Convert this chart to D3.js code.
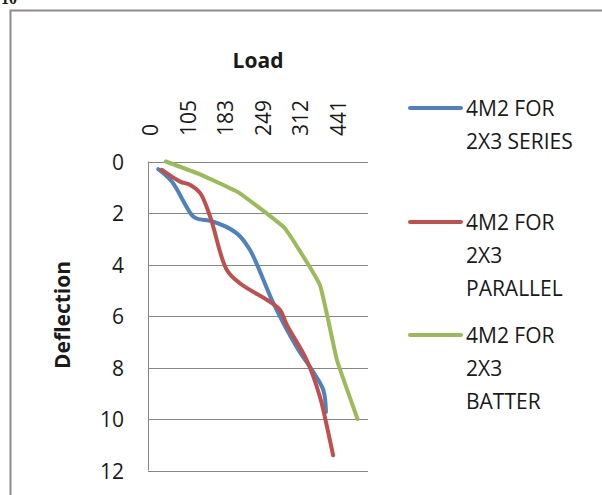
<!DOCTYPE html>
<html>
<head>
<meta charset="utf-8">
<script src="https://cdn.jsdelivr.net/npm/d3@7"></script>
<style>
  body { margin: 0; background: #fff; }
  text { font-family: "Open Sans", sans-serif; fill: #1a1a1a; }
</style>
</head>
<body>
<div id="chart"></div>
<script>
// Load categories shown on the top axis
const loadLabels = ["0", "105", "183", "249", "312", "441"];

// positions along the Load axis (in category steps) and deflections
const seriesX = [0.22, 0.58, 1.15, 1.33, 1.60, 2.31, 2.66, 3.28, 3.90, 4.34, 4.61, 4.68];
const seriesY = [0.3, 0.78, 2.14, 2.25, 2.3, 2.79, 3.44, 5.5, 7.2, 8.17, 8.88, 9.73];

const parallelX = [0.31, 0.80, 1.06, 1.33, 1.60, 2.04, 2.39, 3.19, 3.46, 3.64, 4.17, 4.52, 4.65, 4.87];
const parallelY = [0.32, 0.78, 0.9, 1.22, 2.14, 4.2, 4.73, 5.45, 5.77, 6.35, 7.72, 9.14, 9.92, 11.41];

const batterX = [0.42, 1.33, 2.35, 3.59, 4.52, 4.97, 5.52];
const batterY = [0, 0.5, 1.2, 2.6, 4.8, 7.7, 10.0];

const deflTicks = [0, 2, 4, 6, 8, 10, 12];

const series = [
  { name: ["4M2 FOR", "2X3 SERIES"], xs: seriesX, ys: seriesY, color: "#4f81bd", ly: 108,
    curve: d3.curveCatmullRom.alpha(0.5) },
  { name: ["4M2 FOR", "2X3", "PARALLEL"], xs: parallelX, ys: parallelY, color: "#c0504d", ly: 222,
    curve: d3.curveCatmullRom.alpha(0.5) },
  { name: ["4M2 FOR", "2X3", "BATTER"], xs: batterX, ys: batterY, color: "#9bbb59", ly: 335,
    curve: d3.curveCardinal.tension(0.7) }
];

const W = 602, H = 495;
const svg = d3.select("#chart").append("svg")
    .attr("width", W).attr("height", H);

// caption fragment clipped at the top of the page
svg.append("text").attr("x", 1).attr("y", 4)
    .style("font-family", "'Liberation Serif', serif")
    .style("font-weight", "bold").style("font-size", "16px")
    .text("10");

// chart area border
svg.append("rect").attr("x", 10.5).attr("y", 10.5)
    .attr("width", 700).attr("height", 600)
    .attr("fill", "none").attr("stroke", "#8c8c8c").attr("stroke-width", 2);

const plot = { left: 148, right: 368, top: 161.5, bottom: 470.5 };

const x = d3.scaleLinear().domain([0, 5]).range([150, 338]);
const y = d3.scaleLinear().domain([0, 12]).range([plot.top, plot.bottom]);

// horizontal gridlines
svg.append("g").selectAll("line").data(deflTicks).enter().append("line")
    .attr("x1", plot.left).attr("x2", plot.right)
    .attr("y1", d => Math.round(y(d)) + 0.5).attr("y2", d => Math.round(y(d)) + 0.5)
    .attr("stroke", "#868686").attr("stroke-width", 1);

// vertical axis line
svg.append("line")
    .attr("x1", plot.left + 0.5).attr("x2", plot.left + 0.5)
    .attr("y1", plot.top).attr("y2", plot.bottom)
    .attr("stroke", "#868686");

// deflection tick labels
svg.append("g").selectAll("text").data(deflTicks).enter().append("text")
    .attr("x", 124).attr("y", d => y(d))
    .attr("text-anchor", "end").attr("dominant-baseline", "central")
    .style("font-size", "21px")
    .text(d => d);

// load tick labels, rotated
svg.append("g").selectAll("text").data(loadLabels).enter().append("text")
    .attr("transform", (d, i) => `translate(${x(i)},136) rotate(-90)`)
    .attr("dominant-baseline", "central")
    .style("font-size", "21px")
    .text(d => d);

// axis titles
svg.append("text").attr("x", 258).attr("y", 60)
    .attr("text-anchor", "middle").attr("dominant-baseline", "central")
    .style("font-size", "21px").style("font-weight", "bold")
    .text("Load");

svg.append("text").attr("transform", "translate(62,315) rotate(-90)")
    .attr("text-anchor", "middle").attr("dominant-baseline", "central")
    .style("font-size", "21px").style("font-weight", "bold")
    .text("Deflection");

// lines
svg.append("g").selectAll("path").data(series).enter().append("path")
    .attr("d", s => d3.line()
        .x(d => x(d[0])).y(d => y(d[1]))
        .curve(s.curve)(s.xs.map((v, i) => [v, s.ys[i]])))
    .attr("fill", "none").attr("stroke", s => s.color)
    .attr("stroke-width", 4).attr("stroke-linecap", "round")
    .attr("stroke-linejoin", "round");

// legend
const leg = svg.append("g").selectAll("g").data(series).enter().append("g");
leg.append("line")
    .attr("x1", 410).attr("x2", 461)
    .attr("y1", s => s.ly).attr("y2", s => s.ly)
    .attr("stroke", s => s.color).attr("stroke-width", 4)
    .attr("stroke-linecap", "round");
leg.each(function (s) {
  d3.select(this).selectAll("text").data(s.name).enter().append("text")
      .attr("x", 466).attr("y", (d, i) => s.ly + i * 33)
      .attr("dominant-baseline", "central")
      .style("font-size", "21px")
      .text(d => d);
});
</script>
</body>
</html>
